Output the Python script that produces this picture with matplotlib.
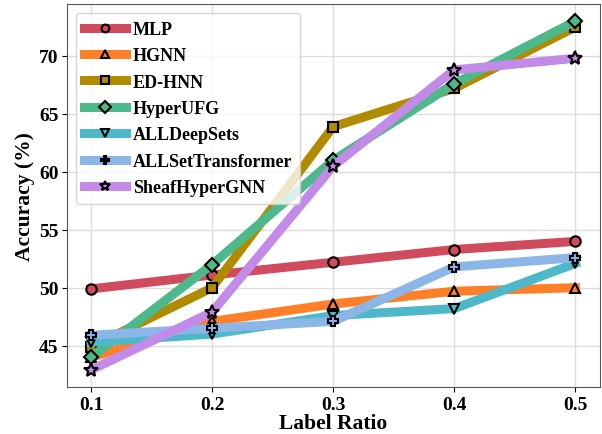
import matplotlib
matplotlib.use('Agg')
import matplotlib.pyplot as plt

label_ratio = [0.1, 0.2, 0.3, 0.4, 0.5]

mlp = [49.9, 51.1, 52.2, 53.3, 54.0]
hgnn = [44.0, 47.1, 48.6, 49.7, 50.0]
ed_hnn = [44.9, 50.0, 63.9, 67.2, 72.5]
hyperufg = [44.0, 52.0, 61.0, 67.6, 73.0]
alldeepsets = [45.3, 46.0, 47.6, 48.2, 52.1]
allsettransformer = [45.9, 46.5, 47.1, 51.8, 52.6]
sheafhypergnn = [42.9, 47.9, 60.5, 68.8, 69.8]

names = ['MLP', 'HGNN', 'ED-HNN', 'HyperUFG', 'ALLDeepSets',
         'ALLSetTransformer', 'SheafHyperGNN']
series = [mlp, hgnn, ed_hnn, hyperufg, alldeepsets, allsettransformer, sheafhypergnn]
colors = ['#d14b5f', '#fd8028', '#b08b00', '#4db88a', '#4db9c8', '#8cb5e8', '#c28be8']
markers = ['o', '^', 's', 'D', 'v', 'P', '*']

plt.rcParams['font.family'] = ['Liberation Serif', 'DejaVu Serif']
plt.rcParams['font.weight'] = 'bold'

fig = plt.figure(figsize=(6.02, 4.35), dpi=100)
ax = fig.add_axes([0.111, 0.107, 0.885, 0.882])

for name, vals, c, m in zip(names, series, colors, markers):
    ax.plot(label_ratio, vals, color=c, linewidth=6.5, marker=m,
            markersize=7.5 if m != '*' else 10, markerfacecolor=c,
            markeredgecolor='black', markeredgewidth=1.5, label=name)

ax.set_xticks(label_ratio)
ax.set_xticklabels(['0.1', '0.2', '0.3', '0.4', '0.5'])
ax.set_yticks([45, 50, 55, 60, 65, 70])
ax.tick_params(labelsize=14, colors='black', pad=2.5)
for lab in ax.get_xticklabels() + ax.get_yticklabels():
    lab.set_fontweight('bold')
ax.set_xlabel('Label Ratio', fontsize=15.5, fontweight='bold', labelpad=0)
ax.set_ylabel('Accuracy (%)', fontsize=15.5, fontweight='bold', labelpad=3)

ax.grid(True, color='#dddddd', linewidth=1)
ax.set_axisbelow(True)
for s in ax.spines.values():
    s.set_color('#555555')

leg = ax.legend(loc='upper left', prop={'weight': 'bold', 'size': 13},
                handlelength=2.3, markerscale=0.75, framealpha=0.8,
                borderpad=0.45, labelspacing=0.52, handletextpad=0.4)

plt.savefig('out.png', dpi=100)
